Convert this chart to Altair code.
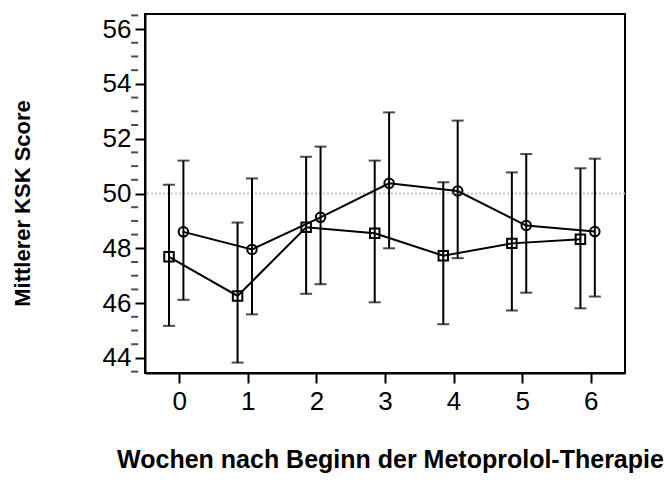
import altair as alt
import pandas as pd

weeks = [0, 1, 2, 3, 4, 5, 6]

# Series A (squares)
sq_mean = [47.69, 46.26, 48.77, 48.55, 47.73, 48.18, 48.33]
sq_lo = [45.17, 43.83, 46.34, 46.03, 45.23, 45.73, 45.81]
sq_hi = [50.32, 48.94, 51.34, 51.20, 50.41, 50.77, 50.92]

# Series B (circles)
ci_mean = [48.60, 47.96, 49.13, 50.37, 50.09, 48.83, 48.61]
ci_lo = [46.12, 45.59, 46.69, 48.00, 47.64, 46.38, 46.24]
ci_hi = [51.20, 50.55, 51.71, 52.96, 52.66, 51.44, 51.27]

sq_offset = -0.15
ci_offset = 0.06

y_major = [44, 46, 48, 50, 52, 54, 56]
y_minor = [43.5, 44.5, 45, 45.5, 46.5, 47, 47.5, 48.5, 49, 49.5, 50.5, 51, 51.5,
           52.5, 53, 53.5, 54.5, 55, 55.5, 56.5]

df = pd.concat([
    pd.DataFrame({"week": weeks, "xpos": [w + sq_offset for w in weeks], "mean": sq_mean,
                  "lo": sq_lo, "hi": sq_hi, "series": "A"}),
    pd.DataFrame({"week": weeks, "xpos": [w + ci_offset for w in weeks], "mean": ci_mean,
                  "lo": ci_lo, "hi": ci_hi, "series": "B"}),
], ignore_index=True)

xscale = alt.Scale(domain=[-0.5, 6.5], nice=False, zero=False)
yscale = alt.Scale(domain=[43.45, 56.55], nice=False, zero=False)

x_axis = alt.Axis(values=weeks, title="Wochen nach Beginn der Metoprolol-Therapie",
                  format="d", grid=False, tickSize=10, tickWidth=2,
                  domainWidth=2, domainColor="black", tickColor="black",
                  labelFontSize=26, labelFont="Liberation Sans", labelColor="black",
                  labelPadding=5,
                  titleFontSize=25, titleFont="Liberation Sans", titleFontWeight="bold",
                  titleColor="black", titleBaseline="alphabetic", titleY=94, titleX=245)
y_axis = alt.Axis(values=y_major, title="Mittlerer KSK Score", grid=False,
                  format="d", labelOverlap=False, tickSize=10,
                  tickWidth=2, domainWidth=2, domainColor="black", tickColor="black",
                  labelFontSize=26, labelFont="Liberation Sans", labelColor="black",
                  labelPadding=4,
                  titleFontSize=22, titleFont="Liberation Sans", titleFontWeight="bold",
                  titleColor="black", titleAngle=270, titleBaseline="middle",
                  titleAlign="center", titleX=-123, titleY=189)

base = alt.Chart(df)

ref = alt.Chart(pd.DataFrame({"v": [50]})).mark_rule(
    color="#c8c2bb", strokeDash=[2, 2], strokeWidth=2).encode(
    y=alt.Y("v:Q", scale=yscale, axis=y_axis))

# minor ticks of the y axis, left of the axis line
minor = alt.Chart(pd.DataFrame({"m": y_minor, "x0": [-0.6] * len(y_minor)})).mark_tick(
    color="black", thickness=2, size=7, orient="horizontal", clip=False, xOffset=-3.5).encode(
    y=alt.Y("m:Q", scale=yscale, axis=y_axis),
    x=alt.X("x0:Q", scale=xscale, axis=x_axis))

bars = base.mark_rule(color="black", strokeWidth=2).encode(
    x=alt.X("xpos:Q", scale=xscale, axis=x_axis),
    y=alt.Y("lo:Q", scale=yscale, axis=y_axis), y2="hi:Q")

caps_lo = base.mark_tick(color="black", thickness=2, size=12, orient="horizontal").encode(
    x=alt.X("xpos:Q", scale=xscale, axis=x_axis), y=alt.Y("lo:Q", scale=yscale, axis=y_axis))
caps_hi = base.mark_tick(color="black", thickness=2, size=12, orient="horizontal").encode(
    x=alt.X("xpos:Q", scale=xscale, axis=x_axis), y=alt.Y("hi:Q", scale=yscale, axis=y_axis))

lines = base.mark_line(color="black", strokeWidth=2).encode(
    x=alt.X("xpos:Q", scale=xscale, axis=x_axis),
    y=alt.Y("mean:Q", scale=yscale, axis=y_axis), detail="series:N")

pts = base.mark_point(filled=False, color="black", strokeWidth=2, size=90, opacity=1).encode(
    x=alt.X("xpos:Q", scale=xscale, axis=x_axis),
    y=alt.Y("mean:Q", scale=yscale, axis=y_axis),
    shape=alt.Shape("series:N", scale=alt.Scale(domain=["A", "B"], range=["square", "circle"]),
                    legend=None))

chart = alt.layer(ref, minor, bars, caps_lo, caps_hi, lines, pts).properties(
    width=480, height=359,
    autosize=alt.AutoSizeParams(type="none"),
    padding={"left": 145, "top": 14, "right": 47, "bottom": 119},
    background="white",
).configure_view(stroke="black", strokeWidth=2)

chart.save("out.html", embed_options={"renderer": "svg", "actions": False})
